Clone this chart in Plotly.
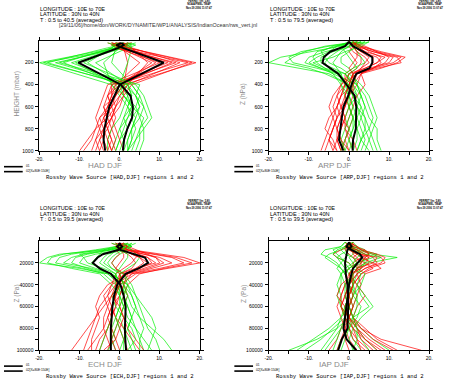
import plotly.graph_objects as go

# ---------------- DATA ----------------
X_TICKS = [-20, -15, -10, -5, 0, 5, 10, 15, 20]
X_TICKTEXT = ["-20.", "", "-10.", "", "0.", "", "10.", "", "20."]
P_TICKS = [100, 200, 300, 400, 500, 600, 700, 800, 900, 1000]
P_TICKTEXT = ["", "200", "", "400", "", "600", "", "800", "", "1000"]
PA_TICKS = [10000, 20000, 30000, 40000, 50000, 60000, 70000, 80000, 90000, 100000]
PA_TICKTEXT = ["", "20000", "", "40000", "", "60000", "", "80000", "", "100000"]

# HAD (mbar)
HAD_LEV = [20, 40, 65, 200, 400, 500, 600, 700, 800, 900, 1000]
HAD_GREEN = [
    [1, 2, -1, -20, -2, 1, 3, 2, 1, 0, -1],
    [-2, 0, -3, -18, 1, 4, 5, 4, 3, 2, 2],
    [2, 3, 1, -16, 3, 5, 6, 7, 5, 4, 3],
    [0, -1, -2, -14, 0, 2, 3, 1, 0, -1, -2],
    [3, 1, 0, -12, 2, 3, 2, 4, 3, 2, 1],
    [-1, 2, 1, -11, -1, 1, 4, 5, 6, 6, 5],
    [1, 0, -1, -9, 4, 6, 7, 8, 6, 4, 2],
    [-3, -1, -2, -8, 1, 2, 1, 0, -2, -3, -3],
    [2, 4, 2, -6, 2, 4, 5, 3, 2, 1, 0],
    [0, 1, 0, -4, -2, 0, 2, 3, 4, 3, 2],
    [1, -2, -1, -2, 3, 5, 4, 2, 0, 1, 1],
    [4, 2, 3, 2, 0, 1, 3, 6, 5, 5, 4],
    [-1, 0, 1, -19, 2, 3, 2, 1, 2, 0, -1],
    [2, 1, -1, -15, 5, 4, 6, 5, 3, 3, 2],
]
HAD_RED = [
    [0, -2, 2, 19, 1, -1, -2, -4, -5, -6, -7],
    [-1, 1, 0, 17, -1, -3, -4, -3, -4, -5, -6],
    [2, 0, 3, 15, 2, 0, -1, -2, -3, -2, -1],
    [-3, -1, 1, 13, 0, -2, -3, -5, -6, -7, -9],
    [1, 2, 0, 12, -2, -3, -2, -1, -2, -3, -2],
    [-2, 0, 2, 11, 1, 1, 0, -2, -4, -4, -3],
    [0, 1, -1, 10, -3, -4, -5, -6, -5, -4, -5],
    [3, -1, 1, 9, 0, -1, -3, -2, -1, 0, 1],
    [-1, 2, 3, 7, 2, 0, -2, -4, -3, -5, -4],
    [1, 0, 0, 5, -1, -2, -1, -3, -6, -8, -10],
    [0, -2, 1, 2, 1, -1, -4, -3, -2, -1, -2],
    [2, 1, 2, 18, 3, 1, -1, -2, -4, -3, -2],
    [-2, 0, -1, 14, -2, -2, -3, -4, -3, -2, -3],
    [1, 1, 0, 8, 0, -3, -2, -5, -4, -6, -5],
]
HAD_MEAN1 = [0.5, -0.8, 0.8, 11, 0, -1.4, -2.6, -3.2, -3.8, -4, -3.6]
HAD_MEAN2 = [0.5, 1.0, -0.3, -10.3, 0.3, 2.7, 3.3, 3.1, 1.9, 1.1, 0.8]

# ARP (hPa)
ARP_LEV = [10, 50, 100, 150, 200, 250, 300, 400, 500, 600, 700, 800, 900, 1000]
ARP_GREEN = [
    [4, -2, -10, -17, -20, -12, -5, 0, 2, 3, 4, 5, 6, 7],
    [2, -5, -12, -15, -14, -8, -3, 1, 3, 4, 3, 2, 2, 1],
    [3, 0, -6, -10, -11, -7, -2, -1, 0, 1, 2, 3, 4, 3],
    [1, -3, -8, -9, -8, -6, -4, 2, 4, 5, 6, 5, 3, 2],
    [5, 1, -4, -7, -7, -4, -1, 1, 2, 0, -1, 0, 1, 0],
    [0, -1, -3, -5, -6, -5, -3, 0, 1, 2, 1, 2, 3, 5],
    [3, -4, -7, -6, -5, -2, 0, 3, 5, 6, 7, 6, 5, 4],
    [2, 0, -2, -3, -4, -3, -2, -2, -1, 0, 1, 1, 0, -1],
    [4, 2, 0, -2, -2, 0, 1, 2, 3, 2, 4, 4, 3, 2],
    [1, -2, -1, 0, 1, 2, 0, -1, 1, 3, 2, 1, 0, 1],
    [3, 1, 2, 3, 4, 1, -1, 1, 0, 1, 0, -1, -2, -1],
    [2, -6, -11, -14, -16, -10, -6, 0, 1, 2, 3, 4, 5, 6],
    [5, 3, -1, -4, -9, -6, -1, 2, 3, 4, 5, 7, 7, 8],
    [0, -3, -5, -8, -10, -7, -4, -2, 0, 0, 1, 0, -1, -2],
]
ARP_RED = [
    [1, 3, 8, 14, 12, 8, 3, 1, -2, -3, -4, -5, -6, -7],
    [0, 2, 6, 12, 13, 7, 2, 0, -1, -2, -3, -4, -5, -4],
    [2, 4, 7, 10, 9, 6, 3, 2, 0, -1, -2, -3, -2, -1],
    [0, 1, 3, 7, 8, 6, 2, -1, -3, -4, -3, -4, -5, -3],
    [1, 2, 4, 6, 6, 5, 1, 0, -1, 0, -1, -2, -3, -2],
    [0, 1, 2, 4, 5, 3, 2, 1, 1, 0, 1, 0, -1, 0],
    [1, 0, 1, 3, 3, 2, 0, -2, -4, -5, -4, -3, -3, -2],
    [0, 3, 5, 8, 7, 4, 1, 0, 0, -2, -1, -1, 0, 1],
    [2, 1, 0, 1, 2, 1, -1, -1, -2, -3, -5, -6, -4, -3],
    [0, 2, 6, 11, 10, 5, 3, 4, 2, 1, 0, -1, 1, 2],
    [1, 3, 7, 13, 11, 6, 2, -2, -3, -2, -1, -2, -3, -4],
    [0, 1, 3, 5, 4, 3, 1, 0, -1, -1, -2, -3, -2, 0],
    [1, 2, 4, 9, 7, 4, 0, -1, -2, -3, -2, 0, -1, -2],
    [0, 1, 2, 2, 1, 0, 1, 1, 0, -1, -3, -4, -5, -6],
]
ARP_MEAN1 = [0, 1, 3.5, 5.8, 5.8, 5.1, 1.8, 0.6, -0.2, -1.4, -1.8, -2.2, -2.5, -1.4]
ARP_MEAN2 = [0, -1, -4.7, -6.3, -6.6, -4.7, -2.7, -0.6, 1.4, 1.8, 1.8, 1.7, 1.0, 0.9]

# ECH (Pa)
ECH_LEV = [2000, 5000, 8000, 12000, 15000, 20000, 25000, 30000, 40000, 50000,
           60000, 70000, 80000, 90000, 100000]
ECH_GREEN = [
    [1, 2, -3, -15, -18, -20, -10, -3, 0, 2, 3, 5, 8, 11, 13],
    [3, 1, -5, -12, -15, -16, -9, -4, -1, 1, 2, 3, 4, 5, 6],
    [-1, 0, -2, -8, -11, -12, -8, -3, 1, 3, 4, 3, 2, 1, 0],
    [2, 3, 0, -6, -9, -10, -6, -2, 0, 0, 1, 2, 4, 6, 8],
    [0, -1, -4, -5, -6, -7, -5, -2, 2, 4, 5, 6, 7, 9, 10],
    [4, 2, 1, -3, -4, -5, -3, -1, 0, -1, -2, -2, -3, -4, -5],
    [-2, 1, -1, -2, -3, -4, -2, 0, 1, 2, 1, 0, 1, 2, 3],
    [1, 0, 2, 0, -1, -2, -1, 1, 3, 4, 6, 8, 9, 8, 7],
    [3, 2, 0, 2, 2, 1, 0, -1, -1, 0, 0, -1, -2, -1, -3],
    [0, 1, 3, 4, 5, 4, 2, 0, 1, 1, 2, 3, 2, 3, 4],
    [2, -1, -6, -14, -17, -18, -12, -5, -2, 0, 1, 0, -1, -2, -1],
    [1, 3, -2, -9, -12, -14, -7, -2, 2, 3, 4, 5, 6, 5, 5],
    [-1, 0, -3, -10, -9, -8, -4, -1, 0, -2, -1, 1, 3, 4, 2],
    [2, 1, 1, -1, -2, -3, -2, 1, 2, 1, 0, -1, 0, 1, 1],
]
ECH_RED = [
    [0, 1, 3, 10, 16, 20, 12, 4, 0, -2, -4, -6, -8, -10, -12],
    [1, -1, 2, 8, 13, 16, 10, 3, -1, -3, -5, -6, -7, -8, -9],
    [-2, 0, 1, 6, 10, 13, 8, 3, 1, 0, -1, -2, -3, -4, -5],
    [0, 2, 4, 7, 9, 10, 6, 2, -2, -4, -3, -2, -3, -5, -6],
    [-1, 1, 0, 4, 7, 8, 5, 1, 0, -1, -2, -1, 0, 1, 2],
    [2, 0, 1, 3, 5, 6, 4, 2, 1, 2, 1, 0, -1, -2, -3],
    [0, -1, 0, 2, 3, 4, 3, 0, -1, -2, -3, -4, -4, -3, -2],
    [1, 2, 3, 5, 4, 3, 1, -1, -2, -3, -2, -1, 1, 3, 5],
    [-1, 0, 0, 1, 1, 0, -1, 0, 1, 0, -2, -3, -4, -6, -8],
    [0, 1, 2, 9, 14, 18, 11, 5, 2, 1, 0, 1, 2, 4, 6],
    [1, 0, -1, 0, -1, -2, -1, 1, 0, -1, -1, -2, -2, -1, 0],
    [0, 1, 2, 6, 9, 11, 7, 2, -3, -5, -6, -5, -6, -7, -7],
    [-1, 2, 1, 3, 5, 7, 5, 1, -1, -1, -2, -3, -2, -2, -1],
    [1, -1, 2, 5, 7, 9, 4, 0, 0, -2, 0, 1, 0, -1, -4],
]
ECH_MEAN1 = [0.3, -0.6, 0.2, 4.0, 6.3, 7.1, 4.7, 1.5, -0.6, -1.4, -1.8, -2.0, -2.2, -2.2, -2.2]
ECH_MEAN2 = [-0.3, 0.6, -0.2, -4.2, -5.5, -6.7, -5.0, -2.2, 0.2, 1.0, 1.5, 1.4, 1.3, 1.4, 1.6]

# IAP (Pa)
IAP_LEV = [1000, 5000, 8000, 12000, 15000, 20000, 25000, 30000, 40000, 50000,
           60000, 70000, 80000, 90000, 100000]
IAP_GREEN = [
    [0, -1, 2, 6, 12, 5, 2, 1, 0, 2, 1, 0, -3, -8, -15],
    [1, 0, -2, -5, -6, -4, -2, -1, 0, -1, 0, -1, -4, -7, -11],
    [0, 2, 4, 5, 4, 3, 1, 0, 2, 3, 5, 1, -2, -4, -6],
    [-1, -2, -4, -3, -2, -1, 0, -2, -1, 0, 1, 0, 0, 1, 3],
    [0, 1, 0, 2, 3, 4, 3, 2, 1, 0, -1, -1, 1, 3, 5],
    [1, -1, -3, -4, -3, -2, -3, -2, -3, -2, -2, -1, -2, -3, -4],
    [0, 0, 1, 1, 0, 1, 2, 4, 3, 1, 0, 1, 3, 6, 10],
    [-1, 1, 3, 7, 6, 2, 0, -1, 0, 1, 3, 2, 0, -2, -3],
    [0, -1, -1, 0, -1, -2, -1, 0, 1, 1, 0, -2, -5, -9, -13],
    [1, 2, 0, -2, -3, 0, 1, 3, 2, 4, 6, 3, 1, 0, 1],
    [0, 0, 2, 3, 2, 1, -1, -2, -2, -3, -2, 0, 2, 4, 7],
    [-1, -2, -6, -7, -5, -3, -2, -1, 0, 0, -1, -2, -3, -5, -7],
    [0, 1, 1, 4, 8, 4, 2, 1, -1, -1, 0, 1, 0, -1, -2],
    [1, -1, -2, -1, 1, 2, 0, 1, 1, 2, 2, 1, 2, 2, 1],
]
IAP_RED = [
    [0, 1, 3, 6, 8, 9, 5, 3, 1, 0, -1, 0, 3, 8, 18],
    [1, 0, 2, 4, 6, 7, 4, 2, 0, -1, 0, 1, 4, 7, 12],
    [0, -1, 1, 3, 5, 4, 2, 1, 1, 0, -1, -1, 0, 2, 5],
    [-1, 0, -2, -4, -3, 0, 1, 0, -1, -2, -2, -1, -2, -3, -5],
    [0, 2, 3, 5, 4, 3, 2, 2, 3, 2, 1, 0, 2, 5, 9],
    [1, 1, 0, 2, 3, 6, 8, 4, 2, 1, 0, -1, -1, 0, 2],
    [0, -1, 2, 4, 5, 2, 0, -1, 0, -1, -2, -1, 1, 4, 8],
    [-1, 0, 1, 1, 2, 3, 3, 1, -1, -2, -3, -2, -1, -1, 0],
    [0, 1, 4, 5, 3, 1, 1, 0, 2, 4, 2, 1, 3, 6, 11],
    [1, 0, -1, 0, 1, 4, 6, 3, 1, 0, 1, 0, -1, -2, -3],
    [0, 2, 3, 7, 9, 8, 4, 2, 0, 1, 0, 1, 2, 3, 6],
    [0, -1, 0, 2, 1, 2, 2, 1, -2, -3, -1, 0, 1, 2, 3],
    [1, 0, 2, 3, 4, 5, 3, 0, 1, 0, 0, -1, 0, 1, 4],
    [0, 1, 1, 3, 7, 6, 2, 1, 0, -1, -2, 0, 2, 4, 7],
]
IAP_MEAN1 = [0, -0.6, 0.6, 2.7, 3.3, 2.2, 1.0, 0.6, 0, -0.3, -0.6, -1.0, -1.4, -0.6, 1.8]
IAP_MEAN2 = [0, 0.6, -0.4, -0.6, -0.8, -1.0, -0.9, -0.8, -0.4, -0.3, -0.2, -0.3, -0.4, -1.8, -2.7]

MODELS = ["HAD", "ARP", "ECH", "IAP"]
Y_LABELS = ["HEIGHT (mbar)", "Z (hPa)", "Z (Pa)", "Z (Pa)"]
T_RANGES = ["T : 0.5 to 40.5 (averaged)", "T : 0.5 to 79.5 (averaged)",
            "T : 0.5 to 39.5 (averaged)", "T : 0.5 to 39.5 (averaged)"]

# ---------------- FIGURE ----------------
W, H = 449, 384
GREEN = "#00f000"
RED = "#ff0000"

def px(x):
    return x / W

def py(y):
    return 1 - y / H

panels = [
    dict(lev=HAD_LEV, g=HAD_GREEN, r=HAD_RED, m1=HAD_MEAN1, m2=HAD_MEAN2,
         box=(36, 199, 41, 152), yr=[1000, 0], yt=P_TICKS, ytt=P_TICKTEXT),
    dict(lev=ARP_LEV, g=ARP_GREEN, r=ARP_RED, m1=ARP_MEAN1, m2=ARP_MEAN2,
         box=(269, 432, 41, 152), yr=[1000, 0], yt=P_TICKS, ytt=P_TICKTEXT),
    dict(lev=ECH_LEV, g=ECH_GREEN, r=ECH_RED, m1=ECH_MEAN1, m2=ECH_MEAN2,
         box=(36, 199, 243, 353), yr=[100000, 0], yt=PA_TICKS, ytt=PA_TICKTEXT),
    dict(lev=IAP_LEV, g=IAP_GREEN, r=IAP_RED, m1=IAP_MEAN1, m2=IAP_MEAN2,
         box=(269, 432, 243, 353), yr=[100000, 0], yt=PA_TICKS, ytt=PA_TICKTEXT),
]

fig = go.Figure()
layout = dict(width=W, height=H, margin=dict(l=0, r=0, t=0, b=0),
              paper_bgcolor="white", plot_bgcolor="white", showlegend=False)

TICKFONT = dict(family="Liberation Sans Narrow, Arial Narrow, Liberation Sans, Arial",
                size=5, color="black")

annotations = []
shapes = []

for i, p in enumerate(panels):
    k = "" if i == 0 else str(i + 1)
    xa, ya = "x" + k, "y" + k
    x0, x1, y0, y1 = p["box"]
    n = max(len(p["g"]), len(p["r"]))
    for j in range(n):
        if j < len(p["r"]):
            fig.add_trace(go.Scatter(x=p["r"][j], y=p["lev"], mode="lines",
                                     line=dict(color=RED, width=0.7),
                                     xaxis=xa, yaxis=ya, hoverinfo="skip"))
        if j < len(p["g"]):
            fig.add_trace(go.Scatter(x=p["g"][j], y=p["lev"], mode="lines",
                                     line=dict(color=GREEN, width=0.7),
                                     xaxis=xa, yaxis=ya, hoverinfo="skip"))
    for m in (p["m1"], p["m2"]):
        fig.add_trace(go.Scatter(x=m, y=p["lev"], mode="lines",
                                 line=dict(color="black", width=2),
                                 xaxis=xa, yaxis=ya, hoverinfo="skip"))

    common = dict(showline=True, linecolor="black", linewidth=1, mirror="allticks",
                  ticks="outside", ticklen=3, tickwidth=1, tickcolor="black",
                  showgrid=False, zeroline=False, tickfont=TICKFONT)
    layout["xaxis" + k] = dict(domain=[px(x0), px(x1)], range=[-20, 20],
                               tickmode="array", tickvals=X_TICKS, ticktext=X_TICKTEXT,
                               anchor=ya, ticklabelstandoff=0, **common)
    layout["yaxis" + k] = dict(domain=[py(y1), py(y0)], range=p["yr"],
                               tickmode="array", tickvals=p["yt"], ticktext=p["ytt"],
                               anchor=xa, ticklabelstandoff=1, **common)

    # header text
    hx = x0
    hy = 9 if i < 2 else 210
    for t, txt in enumerate(["LONGITUDE : 10E to 70E", "LATITUDE : 30N to 40N", T_RANGES[i]]):
        annotations.append(dict(x=px(hx), y=py(hy + t * 5.6), xref="paper", yref="paper",
                                text=txt, showarrow=False, xanchor="left", yanchor="middle",
                                borderpad=0,
                                font=dict(family="Liberation Sans Narrow, Arial Narrow, Liberation Sans",
                                          size=5.6, color="black")))
    # ferret logo
    fx = 199 if i % 2 == 0 else 433
    fy = 5 if i < 2 else 206
    annotations.append(dict(x=px(fx), y=py(fy), xref="paper", yref="paper",
                            text="<b>FERRET Ver. 5.80</b><br><b>NOAA/PMEL TMAP</b><br><b>Nov 29 2006 11:07:47</b>",
                            showarrow=False, xanchor="center", yanchor="middle",
                            font=dict(family="Liberation Sans", size=2.6, color="black")))
    # y axis label
    lx = 13 if i % 2 == 0 else 243
    annotations.append(dict(x=px(lx), y=py((y0 + y1) / 2 - 2), xref="paper", yref="paper",
                            text=Y_LABELS[i], textangle=-90, showarrow=False,
                            xanchor="center", yanchor="middle",
                            font=dict(family="Liberation Sans", size=6.5, color="#8a8a8a")))
    # bottom title
    tx = (x0 + x1) / 2 - 15
    ty = y1 + 14.5
    annotations.append(dict(x=px(tx), y=py(ty), xref="paper", yref="paper",
                            text=MODELS[i] + " DJF", showarrow=False,
                            xanchor="center", yanchor="middle", borderpad=0,
                            font=dict(family="Liberation Sans", size=8, color="#8a8a8a")))
    # legend
    lgx0 = 0 if i % 2 == 0 else 234
    lgx1 = lgx0 + 19
    for q, (lab, dy) in enumerate([("01", 16), ("02[X=80E:150E]", 21)]):
        shapes.append(dict(type="line", xref="paper", yref="paper",
                           x0=px(lgx0), x1=px(lgx1), y0=py(y1 + dy), y1=py(y1 + dy),
                           line=dict(color="black", width=1.6)))
        annotations.append(dict(x=px(lgx1 + 2), y=py(y1 + dy - 1), xref="paper", yref="paper",
                                text=lab, showarrow=False, xanchor="left", yanchor="middle",
                                borderpad=0,
                                font=dict(family="Liberation Sans", size=3.2, color="black")))
    # main caption
    cx = 42 if i % 2 == 0 else 275
    annotations.append(dict(x=px(cx), y=py(y1 + 26.5), xref="paper", yref="paper",
                            text="Rossby Wave Source [%s,DJF] regions 1 and 2" % MODELS[i],
                            showarrow=False, xanchor="left", yanchor="middle", borderpad=0,
                            font=dict(family="Liberation Mono, Courier New", size=5.6, color="black")))

# path line across top
annotations.append(dict(x=px(55), y=py(25.5), xref="paper", yref="paper",
                        text="[29/11/06]/home/don/WORK/DYNAMITE/WP1/ANALYSIS/IndianOcean/rws_vert.jnl",
                        showarrow=False, xanchor="left", yanchor="middle", borderpad=0,
                        font=dict(family="Liberation Sans", size=5.4, color="#333333")))

layout["annotations"] = annotations
layout["shapes"] = shapes
fig.update_layout(**layout)
fig.write_html("out.html", config={"displayModeBar": False},
               post_script="document.body.style.margin='0px';")
